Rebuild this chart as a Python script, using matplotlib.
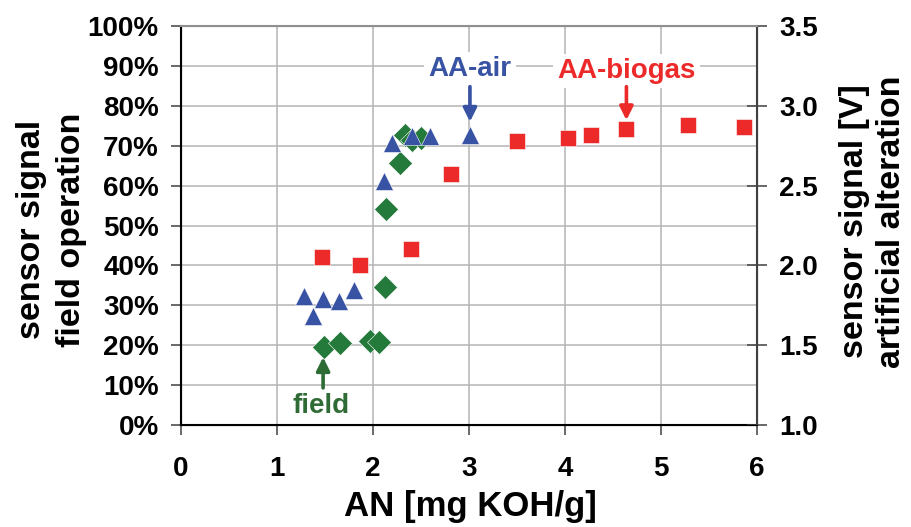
import matplotlib
matplotlib.use("Agg")
import matplotlib.pyplot as plt

plt.rcParams['font.family'] = ['Liberation Sans', 'DejaVu Sans']
plt.rcParams['font.weight'] = 'bold'
plt.rcParams['axes.labelweight'] = 'bold'

# field operation: AN [mg KOH/g] vs sensor signal [%]
field_an = [1.49, 1.66, 1.97, 2.06, 2.13, 2.14, 2.28, 2.33, 2.41, 2.50]
field_sig = [19.6, 20.5, 21.1, 20.7, 34.5, 54.2, 65.6, 72.7, 71.4, 71.9]

# artificial alteration in air: AN vs sensor signal [V]
air_an = [1.28, 1.38, 1.48, 1.65, 1.80, 2.11, 2.20, 2.41, 2.59, 3.01]
air_v = [1.81, 1.685, 1.79, 1.78, 1.845, 2.53, 2.765, 2.81, 2.81, 2.82]

# artificial alteration in biogas
bio_an = [1.47, 1.86, 2.40, 2.81, 3.50, 4.03, 4.27, 4.64, 5.28, 5.86]
bio_v = [2.05, 2.00, 2.105, 2.57, 2.78, 2.80, 2.815, 2.855, 2.88, 2.87]

blue = '#3953a4'
green = '#237a3b'
red = '#ed2a2a'
dgreen = '#2f6b35'

fig = plt.figure(figsize=(9.12, 5.27), dpi=100)
ax = fig.add_axes([0.1985, 0.1935, 0.6315, 0.7572])
ax2 = ax.twinx()

ax.set_xlim(0, 6)
ax.set_ylim(0, 100)
ax2.set_ylim(1.0, 3.5)

ax.set_xticks(range(7))
ax.set_yticks(range(0, 101, 10))
ax.set_yticklabels([f'{v}%' for v in range(0, 101, 10)])
ax2.set_yticks([1.0, 1.5, 2.0, 2.5, 3.0, 3.5])
ax2.set_yticklabels(['1.0', '1.5', '2.0', '2.5', '3.0', '3.5'])

ax.grid(True, color='#b4b4b4', linewidth=1.1)
ax.set_axisbelow(True)

for a in (ax, ax2):
    a.tick_params(labelsize=20, width=1.1, length=7)
ax.tick_params(axis='y', direction='out', pad=9, color='#404040')
ax.tick_params(axis='x', direction='out', pad=15, color='#404040')
ax2.tick_params(axis='y', direction='inout', length=14, pad=9, color='#404040')

ax.spines['top'].set_color('#909090')
ax2.spines['top'].set_color('#909090')
ax2.spines['right'].set_color('#404040')
for s in ('left', 'bottom'):
    ax.spines[s].set_linewidth(1.5)
ax2.spines['right'].set_linewidth(1.5)
ax2.spines['top'].set_linewidth(1.5)

ax.plot(field_an, field_sig, linestyle='none', marker='D', ms=12, color=green, mec='white', mew=0.4, zorder=3)
ax2.plot(bio_an, bio_v, linestyle='none', marker='s', ms=11, color=red, mec='white', mew=0.4, zorder=3)
ax2.plot(air_an, air_v, linestyle='none', marker='^', ms=12.5, color=blue, mec='white', mew=0.4, zorder=4)

ax.set_xlabel('AN [mg KOH/g]', fontsize=25)
ax.xaxis.set_label_coords(0.502, -0.163)
ax.xaxis.label.set_va('top')
ax.set_ylabel('sensor signal\nfield operation', fontsize=24.5, linespacing=1.4)
ax.yaxis.set_label_coords(-0.163, 0.49)
ax2.set_ylabel('sensor signal [V]\nartificial alteration', fontsize=24.5, linespacing=1.25)
ax2.yaxis.set_label_coords(1.142, 0.51)

# annotations: labels with arrows pointing at a marker
arrow = dict(arrowstyle='-|>', lw=2.6, mutation_scale=20, shrinkA=0, shrinkB=0)
ax2.text(air_an[-1], 3.23, 'AA-air', ha='center', va='center', fontsize=20, color=blue,
         bbox=dict(boxstyle='square,pad=0.15', fc='white', ec='none'), zorder=5)
ax2.annotate('', xy=(air_an[-1], 2.90), xytext=(air_an[-1], 3.12),
             arrowprops=dict(arrow, color=blue), zorder=5)
ax2.text(bio_an[7], 3.22, 'AA-biogas', ha='center', va='center', fontsize=20, color=red,
         bbox=dict(boxstyle='square,pad=0.15', fc='white', ec='none'), zorder=5)
ax2.annotate('', xy=(bio_an[7], 2.91), xytext=(bio_an[7], 3.12),
             arrowprops=dict(arrow, color=red), zorder=5)
ax.text(field_an[0] - 0.03, 4.8, 'field', ha='center', va='center', fontsize=20, color=dgreen, zorder=5)
ax.annotate('', xy=(field_an[0] - 0.01, 17.0), xytext=(field_an[0] - 0.01, 9.3),
            arrowprops=dict(arrow, color=dgreen), zorder=5)

fig.savefig('out.png', dpi=100)
